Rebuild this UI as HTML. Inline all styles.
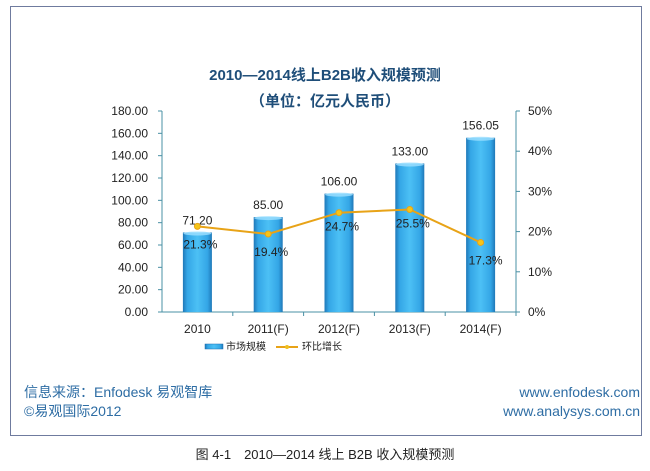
<!DOCTYPE html>
<html><head><meta charset="utf-8"><style>
body{margin:0;background:#fff;width:650px;height:466px;overflow:hidden;font-family:"Liberation Sans","Noto Sans CJK SC",sans-serif}
</style></head><body>
<svg width="650" height="466" font-family="Liberation Sans, Noto Sans CJK SC, sans-serif">
<defs>
<linearGradient id="bg" x1="0" x2="1" y1="0" y2="0">
<stop offset="0" stop-color="#1f78b8"/><stop offset="0.15" stop-color="#34a6e6"/><stop offset="0.5" stop-color="#4cc0f5"/><stop offset="0.85" stop-color="#34a6e6"/><stop offset="1" stop-color="#1f78b8"/>
</linearGradient>
</defs>
<rect x="10.5" y="6.5" width="631" height="429" fill="#fff" stroke="#6f7b9e"/>
<text x="325" y="80" text-anchor="middle" font-size="15" font-weight="bold" fill="#1f4e79">2010—2014线上B2B收入规模预测</text>
<text x="325" y="106" text-anchor="middle" font-size="15" font-weight="bold" fill="#1f4e79">（单位：亿元人民币）</text>
<g id="plot"></g>
<g>
<rect x="205" y="344" width="18" height="5" fill="url(#bg)" stroke="#1a6fb0" stroke-width="0.5"/>
<text x="226" y="350" font-size="10" fill="#222">市场规模</text>
<line x1="276" y1="347" x2="298" y2="347" stroke="#e8a317" stroke-width="2"/>
<circle cx="287" cy="347" r="2" fill="#f0c020"/>
<text x="302" y="350" font-size="10" fill="#222">环比增长</text>
</g>
<text x="24" y="397" font-size="14" fill="#2e6da4">信息来源：Enfodesk 易观智库</text>
<text x="24" y="416" font-size="14" fill="#2e6da4">©易观国际2012</text>
<text x="640" y="397" text-anchor="end" font-size="14" fill="#2e6da4">www.enfodesk.com</text>
<text x="640" y="416" text-anchor="end" font-size="14" fill="#2e6da4">www.analysys.com.cn</text>
<text x="325" y="459" text-anchor="middle" font-size="13" fill="#222">图 4-1　2010—2014 线上 B2B 收入规模预测</text>
</svg>
<script>
const categories=["2010","2011(F)","2012(F)","2013(F)","2014(F)"];
const revenue=[71.20,85.00,106.00,133.00,156.05];
const growth=[21.3,19.4,24.7,25.5,17.3];
const leftTicks=[0,20,40,60,80,100,120,140,160,180];
const rightTicks=[0,10,20,30,40,50];
const NS="http://www.w3.org/2000/svg";
const g=document.getElementById('plot');
const L=162,R=516,T=111,B=312;
const yL=v=>B-(v/180)*(B-T);
const yR=v=>B-(v/50)*(B-T);
const bw=(R-L)/categories.length;
const xc=i=>L+bw*(i+0.5);
function mk(tag,attrs){const e=document.createElementNS(NS,tag);for(const k in attrs)e.setAttribute(k,attrs[k]);g.appendChild(e);return e;}
let e;
e=mk('line',{x1:L,y1:T,x2:L,y2:B,stroke:'#4a90a4'});


e=mk('line',{x1:R,y1:T,x2:R,y2:B,stroke:'#4a90a4'});


e=mk('line',{x1:L,y1:B,x2:R,y2:B,stroke:'#4a90a4'});


leftTicks.forEach(v=>{
 e=mk('line',{x1:L-4,y1:yL(v),x2:L,y2:yL(v),stroke:'#4a90a4'});
 
 
 e=mk('text',{x:L-14,y:yL(v)+4,'text-anchor':'end','font-size':12,fill:'#222'});e.textContent=v.toFixed(2);
 
 
});
rightTicks.forEach(v=>{
 e=mk('line',{x1:R,y1:yR(v),x2:R+4,y2:yR(v),stroke:'#4a90a4'});
 
 
 e=mk('text',{x:528,y:yR(v)+4,'font-size':12,fill:'#222'});e.textContent=v+'%';
 
 
});
categories.forEach((c,i)=>{
 e=mk('line',{x1:L+bw*(i+1),y1:B,x2:L+bw*(i+1),y2:B+4,stroke:'#4a90a4'});
 
 
 e=mk('text',{x:xc(i),y:B+21,'text-anchor':'middle','font-size':12,fill:'#222'});e.textContent=c;
 
 
 const y=yL(revenue[i]);
 e=mk('rect',{x:xc(i)-14.5,y:y,width:29,height:B-y,fill:'url(#bg)'});
 
 
 e=mk('ellipse',{cx:xc(i),cy:y+1,rx:14,ry:2,fill:'#9fe0ff',opacity:0.8});
 
 
 e=mk('text',{x:xc(i),y:y-8,'text-anchor':'middle','font-size':12,fill:'#222'});e.textContent=revenue[i].toFixed(2);
 
 
});
e=mk('polyline',{points:growth.map((v,i)=>xc(i)+','+yR(v)).join(' '),fill:'none',stroke:'#e8a317','stroke-width':2});


growth.forEach((v,i)=>{
 e=mk('circle',{cx:xc(i),cy:yR(v),r:3,fill:'#f5c518',stroke:'#e8a317'});
 
 
 const above=(i==2||i==3);
 e=mk('text',{x:xc(i)+(i==4?5:3),y:above?yR(v)+18:yR(v)+22,'text-anchor':'middle','font-size':12,fill:'#222'});e.textContent=v.toFixed(1)+'%';
 
 
});
</script>
</body></html>
